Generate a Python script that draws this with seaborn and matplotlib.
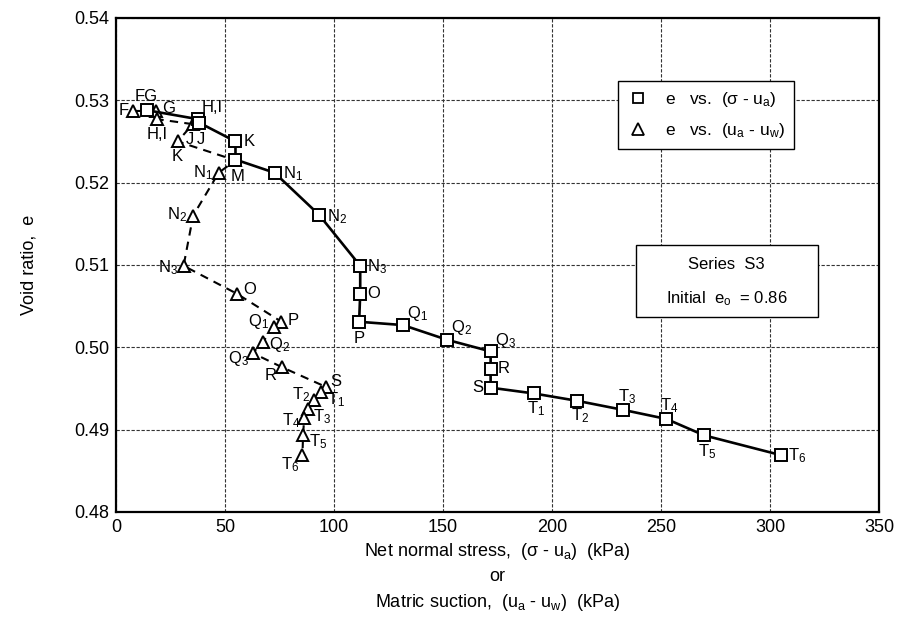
import matplotlib
matplotlib.use("Agg")
import matplotlib.pyplot as plt
from matplotlib.lines import Line2D
from matplotlib.patches import Rectangle
import seaborn as sns

# e vs. net normal stress (squares, solid line)
sq_labels = ["FG", "H,I", "J", "K", "M", "N$_1$", "N$_2$", "N$_3$", "O", "P",
             "Q$_1$", "Q$_2$", "Q$_3$", "R", "S", "T$_1$", "T$_2$", "T$_3$",
             "T$_4$", "T$_5$", "T$_6$"]
sq_stress = [14, 37.7, 38.0, 54.8, 54.8, 72.7, 93.1, 112.0, 112.0, 111.5,
             131.6, 152.0, 171.8, 171.8, 171.8, 191.5, 211.5, 232.6,
             252.4, 269.8, 305.0]
sq_e = [0.5288, 0.5277, 0.5273, 0.5250, 0.5228, 0.5212, 0.5161, 0.5099, 0.5065, 0.5031,
        0.5027, 0.5009, 0.4995, 0.4974, 0.4951, 0.4944, 0.4935, 0.4924,
        0.4913, 0.4893, 0.4869]

# e vs. matric suction (triangles, dashed line)
tr_labels = ["F", "G", "H,I", "J", "K", "", "N$_1$", "N$_2$", "N$_3$", "O", "P",
             "Q$_1$", "Q$_2$", "Q$_3$", "R", "S", "T$_1$", "T$_2$", "T$_3$",
             "T$_4$", "T$_5$", "T$_6$"]
tr_suction = [8.0, 18.5, 19.0, 35.2, 28.3, 54.8, 47.1, 35.4, 31.0, 55.5, 75.9,
              72.6, 67.2, 62.7, 76.0, 96.2, 93.9, 90.9, 88.1,
              86.3, 85.8, 85.5]
tr_e = [0.5287, 0.5287, 0.5277, 0.5271, 0.5250, 0.5227, 0.5212, 0.5160, 0.5099, 0.5065, 0.5031,
        0.5025, 0.5006, 0.4993, 0.4976, 0.4952, 0.4946, 0.4936, 0.4925,
        0.4914, 0.4893, 0.4869]

# label offsets in pixels (dx, dy, ha)
sq_off = [(0, 14, "center"), (3, 12, "left"), (2, -17, "center"), (8, 0, "left"),
          (2, -17, "center"), (8, -1, "left"), (8, -2, "left"), (7, -1, "left"),
          (7, 0, "left"), (0, -17, "center"), (4, 12, "left"), (4, 12, "left"),
          (4, 11, "left"), (7, 0, "left"), (-7, 0, "right"), (3, -15, "center"),
          (3, -15, "center"), (4, 13, "center"), (3, 13, "center"),
          (3, -16, "center"), (7, 0, "left")]
tr_off = [(-5, 0, "right"), (6, 2, "left"), (0, -15, "center"), (-3, -15, "center"),
          (0, -15, "center"), (0, 0, "center"), (-6, 0, "right"), (-6, 1, "right"),
          (-6, -2, "right"), (6, 4, "left"), (6, 1, "left"), (-5, 5, "right"),
          (6, -2, "left"), (-4, -5, "right"), (-5, -8, "right"), (5, 5, "left"),
          (6, -8, "left"), (-4, 5, "right"), (5, -8, "left"), (-4, -3, "right"),
          (6, -6, "left"), (-3, -9, "right")]

sns.set_style("white")
plt.rcParams["font.family"] = ["Liberation Sans", "DejaVu Sans"]
plt.rcParams["mathtext.fontset"] = "custom"
plt.rcParams["mathtext.rm"] = "Liberation Sans"
plt.rcParams["mathtext.it"] = "Liberation Sans"
plt.rcParams["mathtext.default"] = "regular"
plt.rcParams["text.color"] = "black"
plt.rcParams["axes.labelcolor"] = "black"

fig, ax = plt.subplots(figsize=(8.99, 6.4), dpi=100)
fig.subplots_adjust(left=0.129, right=0.978, top=0.972, bottom=0.2)

sns.lineplot(x=tr_suction, y=tr_e, sort=False, estimator=None, ax=ax,
             color="black", lw=1.5, linestyle=(0, (4, 3)), marker="^", markersize=8,
             markerfacecolor="white", markeredgecolor="black", markeredgewidth=1.4,
             zorder=3)
sns.lineplot(x=sq_stress, y=sq_e, sort=False, estimator=None, ax=ax,
             color="black", lw=1.9, marker="s", markersize=8,
             markerfacecolor="white", markeredgecolor="black", markeredgewidth=1.4,
             zorder=4)

for lab, x, y, (dx, dy, ha) in zip(sq_labels, sq_stress, sq_e, sq_off):
    ax.annotate(lab, (x, y), xytext=(dx, dy), textcoords="offset pixels",
                ha=ha, va="center", fontsize=12, zorder=6)
for lab, x, y, (dx, dy, ha) in zip(tr_labels, tr_suction, tr_e, tr_off):
    if lab:
        ax.annotate(lab, (x, y), xytext=(dx, dy), textcoords="offset pixels",
                    ha=ha, va="center", fontsize=12, zorder=6)

ax.set_xlim(0, 350)
ax.set_ylim(0.48, 0.54)
ax.set_xticks(range(0, 351, 50))
ax.set_yticks([0.48, 0.49, 0.50, 0.51, 0.52, 0.53, 0.54])
ax.set_yticklabels([f"{v:.2f}" for v in ax.get_yticks()])
ax.tick_params(labelsize=13, length=3, direction="in", colors="black", pad=5)
ax.grid(True, color="0.2", lw=0.8, ls=(0, (3, 1.5)))
for s in ax.spines.values():
    s.set_color("black")
    s.set_linewidth(1.6)

ax.set_ylabel("Void ratio,  e", fontsize=13, labelpad=26)
ax.set_xlabel("Net normal stress,  (σ - u$_a$)  (kPa)\nor\nMatric suction,  (u$_a$ - u$_w$)  (kPa)",
              fontsize=13, linespacing=1.45, labelpad=4)

handles = [Line2D([], [], ls="none", marker="s", ms=7, mfc="white", mec="black", mew=1.3),
           Line2D([], [], ls="none", marker="^", ms=8, mfc="white", mec="black", mew=1.3)]
leg = ax.legend(handles, ["e   vs.  (σ - u$_a$)", "e   vs.  (u$_a$ - u$_w$)"],
                loc="upper left", bbox_to_anchor=(0.647, 0.889), fontsize=12.5,
                frameon=True, fancybox=False, framealpha=1, edgecolor="black",
                handlelength=1.2, handletextpad=1.0, borderpad=0.5, labelspacing=0.7)
leg.get_frame().set_linewidth(1.0)
leg.set_zorder(7)

ax.add_patch(Rectangle((0.681, 0.395), 0.239, 0.145, transform=ax.transAxes,
                       facecolor="white", edgecolor="black", lw=1.0, zorder=7))
ax.text(0.80, 0.500, "Series  S3", transform=ax.transAxes, ha="center", va="center",
        fontsize=12, zorder=8)
ax.text(0.80, 0.432, "Initial  e$_o$  = 0.86", transform=ax.transAxes, ha="center",
        va="center", fontsize=12, zorder=8)

fig.savefig("out.png", dpi=100)
